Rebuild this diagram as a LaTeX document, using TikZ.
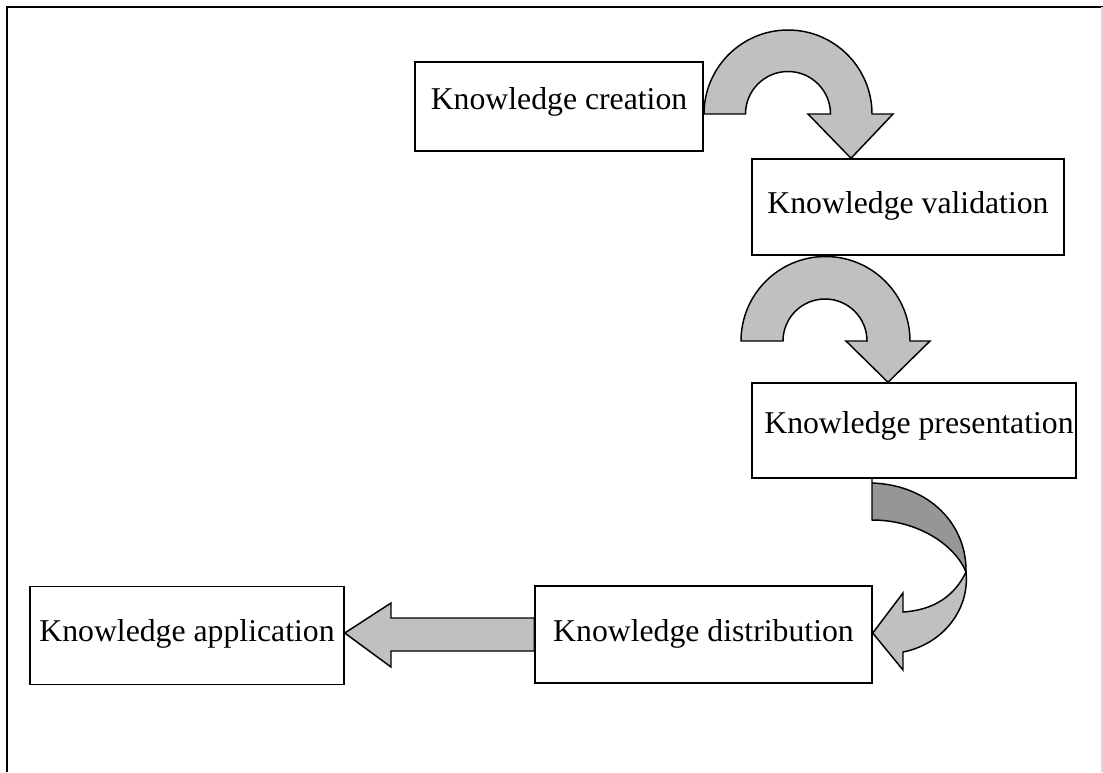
\documentclass[tikz,border=0pt]{standalone}
\usepackage{fontspec}
\setmainfont{Liberation Serif}
\usetikzlibrary{calc}

\definecolor{arrowfill}{RGB}{192,192,192}
\definecolor{arrowback}{RGB}{150,150,150}

\begin{document}
\begin{tikzpicture}[x=0.75pt,y=-0.75pt,
  stagebox/.style={draw=black, line width=1.1pt, rectangle, inner sep=0pt,
    minimum width={#1}},
  stagetext/.style={anchor=base, inner sep=0pt,
    font=\fontsize{23.8}{28}\selectfont},
  blockarrow/.style={draw=black, line width=1.1pt, line join=miter, fill=arrowfill},
  backface/.style={draw=black, line width=1.1pt, line join=miter, fill=arrowback}]

\useasboundingbox (0,0) rectangle (1103,772);

% page frame
\draw[line width=1.5pt, black] (7,772) -- (7,7) -- (1103,7);
\draw[line width=1pt, black!15] (1102,7) -- (1102,772);

% stage boxes
\node[stagebox={288*0.75pt}, minimum height={89*0.75pt}] (create) at (559,106.5) {};
\node[stagebox={312*0.75pt}, minimum height={96*0.75pt}] (valid)  at (908,207) {};
\node[stagebox={324*0.75pt}, minimum height={95*0.75pt}] (pres)   at (914,430.5) {};
\node[stagebox={337*0.75pt}, minimum height={97*0.75pt}] (dist)   at (703.5,634.5) {};
\node[stagebox={314*0.75pt}, minimum height={98*0.75pt}] (app)    at (187,635.5) {};

% stage labels
\node[stagetext] (createtxt) at (559,109)   {Knowledge creation};
\node[stagetext] (validtxt)  at (908,213)   {Knowledge validation};
\node[stagetext] (prestxt)   at (919,433)   {Knowledge presentation};
\node[stagetext] (disttxt)   at (703.5,641) {Knowledge distribution};
\node[stagetext] (apptxt)    at (187,641)   {Knowledge application};

% curved arrow: creation -> validation
\draw[blockarrow] (704,114) arc[start angle=180, end angle=360, radius=84]
  -- (893,114) -- (valid.north -| 851,0) -- (808,114) -- (830.5,114)
  arc[start angle=0, end angle=-180, radius=42.5] -- cycle;

% curved arrow: validation -> presentation
\draw[blockarrow] (741,341) arc[start angle=180, end angle=360, radius=84.5]
  -- (930,341) -- (pres.north -| 888,0) -- (846,341) -- (867,341)
  arc[start angle=0, end angle=-180, radius=42] -- cycle;

% twisted arrow: presentation -> distribution (back face, then front face)
\draw[backface] (pres.south west -| 872,0) -- (872,483)
  .. controls (930,485) and (967,525) .. (966,572)
  .. controls (955,545) and (918,520) .. (872,520) -- cycle;
\draw[blockarrow] (966,572) .. controls (970,612) and (940,645) .. (903,652)
  -- (903,670) -- (dist.east |- 0,633) -- (903,593) -- (903,612)
  .. controls (935,610) and (955,595) .. (966,572) -- cycle;

% straight arrow: distribution -> application
\draw[blockarrow] (dist.west |- 0,618) -- (391,618) -- (391,603)
  -- (app.east |- 0,633) -- (391,667) -- (391,651) -- (dist.west |- 0,651) -- cycle;

\end{tikzpicture}
\end{document}
